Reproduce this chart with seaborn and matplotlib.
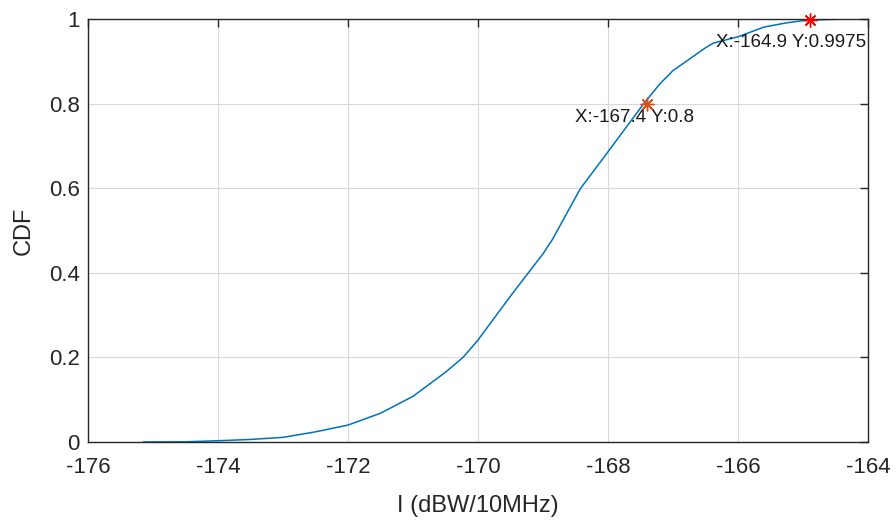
import matplotlib
matplotlib.use("Agg")
import matplotlib.pyplot as plt
import seaborn as sns
import pandas as pd

# CDF curve
interference = [-175.15, -174.5, -174.0, -173.5, -173.0, -172.5, -172.0, -171.5,
                -171.0, -170.5, -170.23, -170.0, -169.5, -169.2, -169.0, -168.86,
                -168.5, -168.42, -168.0, -167.45, -167.2, -167.0, -166.5,
                -166.38, -166.0, -165.6, -165.25, -165.0, -164.9, -164.35]
cdf = [0.0, 0.0005, 0.003, 0.006, 0.011, 0.024, 0.040, 0.068,
       0.108, 0.165, 0.20, 0.241, 0.345, 0.405, 0.445, 0.4775,
       0.578, 0.60, 0.686, 0.80, 0.847, 0.878, 0.932,
       0.943, 0.958, 0.981, 0.991, 0.996, 0.9975, 1.0]

# data tips
tip_x = [-167.4, -164.9]
tip_y = [0.8, 0.9975]
tip_labels = ["X:-167.4 Y:0.8", "X:-164.9 Y:0.9975"]
tip_colors = ["#D95319", "#FF0000"]

xticks = [-176, -174, -172, -170, -168, -166, -164]
yticks = [0, 0.2, 0.4, 0.6, 0.8, 1.0]
ytick_labels = ["0", "0.2", "0.4", "0.6", "0.8", "1"]

sns.set_style("white")
plt.rcParams['font.family'] = ['Liberation Sans', 'DejaVu Sans']

fig = plt.figure(figsize=(8.96, 5.2), dpi=100)
ax = fig.add_axes([88/896, 1-442/520, (868-88)/896, (442-19)/520])

df = pd.DataFrame({"I": interference, "CDF": cdf})
sns.lineplot(data=df, x="I", y="CDF", ax=ax, color="#0072BD", linewidth=1.1)

for x, y, c in zip(tip_x, tip_y, tip_colors):
    ax.plot([x], [y], marker=(8, 2, 0), color=c, markersize=10, linestyle="none",
            markeredgewidth=1.0, zorder=5, clip_on=False)

ax.text(-168.51, 0.766, tip_labels[0], fontsize=13.5, color="#1a1a1a",
        ha="left", va="center")
ax.text(-166.34, 0.9456, tip_labels[1], fontsize=13.5, color="#1a1a1a",
        ha="left", va="center")

ax.set_xlim(-176, -164)
ax.set_ylim(0, 1)
ax.set_xticks(xticks)
ax.set_xticklabels([str(t) for t in xticks])
ax.set_yticks(yticks)
ax.set_yticklabels(ytick_labels)
ax.grid(True, color="#d9d9d9", linewidth=0.8)
ax.set_axisbelow(True)

for s in ax.spines.values():
    s.set_color("#262626")
    s.set_linewidth(1.0)
ax.tick_params(direction="in", length=6, width=1.0, color="#262626",
               top=True, right=True, labelsize=16, labelcolor="#262626")
ax.tick_params(axis="x", pad=11)
ax.tick_params(axis="y", pad=6)

ax.set_xlabel("I (dBW/10MHz)", fontsize=17, color="#262626", labelpad=12)
ax.set_ylabel("CDF", fontsize=17, color="#262626", labelpad=10)

fig.savefig("out.png", dpi=100)
